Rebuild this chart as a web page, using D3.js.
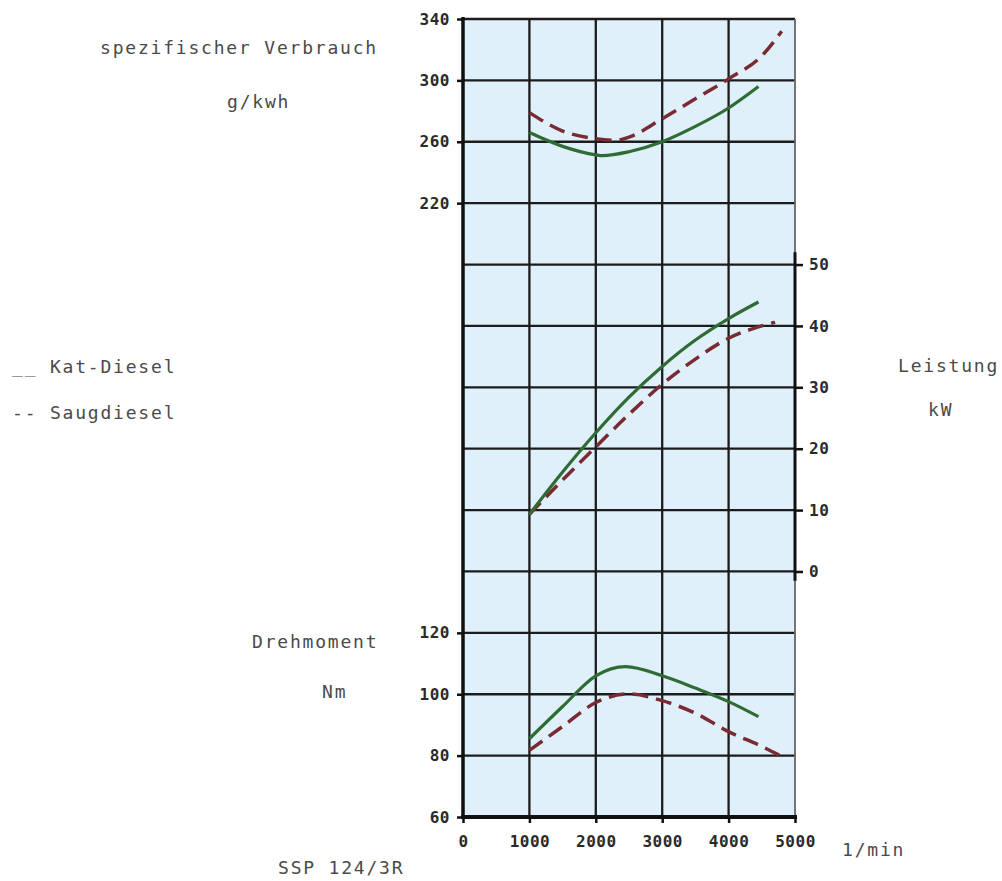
<!DOCTYPE html>
<html><head><meta charset="utf-8">
<script src="https://cdn.jsdelivr.net/npm/d3@7"></script>
<style>body{margin:0;background:#fff;} text{font-family:"DejaVu Sans Mono","Liberation Mono",monospace;}</style>
</head><body><svg id="c" width="1002" height="881"></svg>
<script>
// ---- data ----
const rpmTicks = [0, 1000, 2000, 3000, 4000, 5000];
const consTicks = [340, 300, 260, 220];
const powerTicks = [50, 40, 30, 20, 10, 0];
const torqueTicks = [120, 100, 80, 60];

// spezifischer Verbrauch g/kWh  [rpm, value]
const consKat  = [[1000,266],[1500,257],[2000,251.5],[2100,251],[2500,253.5],[3000,260],[3500,270],[4000,282],[4450,296]];
const consSaug = [[1000,279],[1500,267],[2000,262],[2300,261],[2500,263],[3000,275],[3500,288],[4000,301],[4500,316],[4800,332]];
// Leistung kW
const powKat  = [[1000,9.3],[1500,16.2],[2000,22.6],[2500,28.4],[3000,33.4],[3500,37.7],[4000,41.2],[4450,43.9]];
const powSaug = [[1000,9.3],[1500,14.9],[2000,20.3],[2500,25.6],[3000,30.5],[3500,34.6],[4000,38],[4500,40],[4700,40.6]];
// Drehmoment Nm
const torKat  = [[1000,85.5],[1500,96],[2000,106],[2450,109],[3000,106],[3500,102],[4000,97.6],[4450,92.7]];
const torSaug = [[1000,81.7],[1500,89.5],[2000,97.3],[2500,100.1],[3000,97.9],[3500,93.8],[4000,87.8],[4500,83],[4800,79.7]];

// ---- drawing ----
const svg = d3.select("#c");
const x = d3.scaleLinear([0, 5000], [463, 795]);
const row = d3.scaleLinear([0, 13], [19, 817]);
const yCons = d3.scaleLinear([340, 220], [row(0), row(3)]);
const yPow = d3.scaleLinear([50, 0], [row(4), row(9)]);
const yTor = d3.scaleLinear([120, 60], [row(10), row(13)]);

const GRID = "#1c1c1c";
svg.append("rect").attr("x", x(0)).attr("y", row(0))
  .attr("width", x(5000) - x(0)).attr("height", row(13) - row(0))
  .attr("fill", "#dff0fa");

// grid
svg.append("g").selectAll("line").data(d3.range(0, 14)).join("line")
  .attr("x1", x(0)).attr("x2", x(5000)).attr("y1", d => row(d)).attr("y2", d => row(d))
  .attr("stroke", GRID).attr("stroke-width", 2.3);
svg.append("g").selectAll("line").data(rpmTicks.slice(1, -1)).join("line")
  .attr("x1", d => x(d)).attr("x2", d => x(d)).attr("y1", row(0)).attr("y2", row(13))
  .attr("stroke", GRID).attr("stroke-width", 2.3);

// borders
svg.append("line").attr("x1", x(5000)).attr("x2", x(5000)).attr("y1", row(0)).attr("y2", row(13))
  .attr("stroke", "#666").attr("stroke-width", 1.8);
svg.append("line").attr("x1", x(5000)).attr("x2", x(5000)).attr("y1", row(3.8)).attr("y2", row(9.15))
  .attr("stroke", "#111").attr("stroke-width", 3);
svg.append("line").attr("x1", x(0)).attr("x2", x(0)).attr("y1", row(0) - 2).attr("y2", row(13) + 2)
  .attr("stroke", "#111").attr("stroke-width", 3.5);
svg.append("line").attr("x1", x(0) - 2).attr("x2", x(5000) + 2).attr("y1", row(13)).attr("y2", row(13))
  .attr("stroke", "#111").attr("stroke-width", 4);

// axes
function styleAxis(g) {
  g.select(".domain").remove();
  g.selectAll(".tick line").attr("stroke", "#111").attr("stroke-width", 2.5);
  g.selectAll(".tick text").attr("fill", "#2a2a2a").attr("font-size", 16)
    .attr("font-weight", "bold").style("font-family", '"DejaVu Sans Mono",monospace')
    .attr("letter-spacing", 0.5);
}
const fmt = d3.format("d");
svg.append("g").attr("transform", `translate(${x(0)},0)`)
  .call(d3.axisLeft(yCons).tickValues(consTicks).tickFormat(fmt).tickSize(6).tickPadding(7)).call(styleAxis);
svg.append("g").attr("transform", `translate(${x(0)},0)`)
  .call(d3.axisLeft(yTor).tickValues(torqueTicks).tickFormat(fmt).tickSize(6).tickPadding(7)).call(styleAxis);
svg.append("g").attr("transform", `translate(${x(5000)},0)`)
  .call(d3.axisRight(yPow).tickValues(powerTicks).tickFormat(fmt).tickSize(8).tickPadding(6)).call(styleAxis);
svg.append("g").attr("transform", `translate(0,${row(13)})`)
  .call(d3.axisBottom(x).tickValues(rpmTicks).tickFormat(fmt).tickSize(6).tickPadding(13)).call(styleAxis);

// curves
const GREEN = "#2f6b35", RED = "#7a2a33";
function curve(data, y, dashed) {
  const line = d3.line().x(d => x(d[0])).y(d => y(d[1])).curve(d3.curveMonotoneX);
  svg.append("path").attr("d", line(data)).attr("fill", "none")
    .attr("stroke", dashed ? RED : GREEN).attr("stroke-width", dashed ? 3.5 : 3.2)
    .attr("stroke-dasharray", dashed ? "16,8" : null).attr("stroke-linecap", "butt");
}
curve(consSaug, yCons, true);
curve(consKat, yCons, false);
curve(powSaug, yPow, true);
curve(powKat, yPow, false);
curve(torSaug, yTor, true);
curve(torKat, yTor, false);

// labels
const labels = [
  ["spezifischer Verbrauch", 100, 48],
  ["g/kwh", 227, 102],
  ["__ Kat-Diesel", 12, 367],
  ["-- Saugdiesel", 12, 413],
  ["Leistung", 898, 366],
  ["kW", 928, 410],
  ["Drehmoment", 252, 642],
  ["Nm", 322, 692],
  ["SSP 124/3R", 278, 868],
  ["1/min", 842, 850]
];
svg.append("g").selectAll("text").data(labels).join("text")
  .attr("x", d => d[1]).attr("y", d => d[2]).attr("dy", "0.35em")
  .attr("fill", "#4a4a4a").attr("font-size", 18).attr("letter-spacing", 1.8)
  .text(d => d[0]);
</script></body></html>
